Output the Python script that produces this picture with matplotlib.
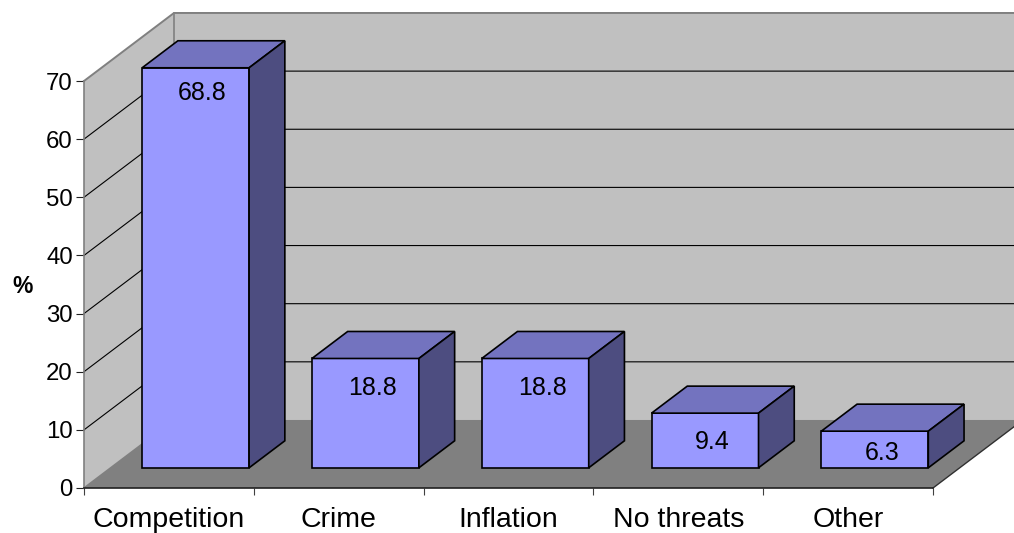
# -*- coding: utf-8 -*-
"""
Perceived business threats, drawn as an old style 3D bar chart.
The box is faked on a normal 2D axes by shifting points along a depth direction.
"""

import matplotlib as mpl
mpl.use("Agg")
import matplotlib.pyplot as plt
from matplotlib.patches import Polygon

plt.rcParams['font.family'] = ['Liberation Sans', 'DejaVu Sans']

############################
#% DATA
############################
categories = ['Competition', 'Crime', 'Inflation', 'No threats', 'Other']
values = [68.8, 18.8, 18.8, 9.4, 6.3]
yticks = [0, 10, 20, 30, 40, 50, 60, 70]

############################
#% SETTINGS
############################
W, H = 1014, 533
DPI = 100

# how far the back of the box is shifted, in data units
DEPTH_X = 0.53
DEPTH_Y = 11.7

BAR_WIDTH = 0.63
BAR_D0 = 0.297   # depth of bar front
BAR_D1 = 0.694   # depth of bar back

# drop of each value label below the bar's front top edge, in points
LABEL_DROP = [18, 21, 21, 20.5, 16]

WALL = '#C0C0C0'
FLOOR = '#808080'
EDGE = '#808080'
FRONT = '#9999FF'
TOP = '#7373BF'
SIDE = '#4D4D80'


def pt(x, y, d):
    """x, y on the front plane pushed back by depth d (0 to 1)."""
    return (x + d * DEPTH_X, y + d * DEPTH_Y)


def face(ax, pts, color, edge='none', lw=1.0, z=1):
    ax.add_patch(Polygon(pts, closed=True, facecolor=color, edgecolor=edge,
                         linewidth=lw, clip_on=False, zorder=z, joinstyle='miter'))


############################
#% PLOT
############################
fig = plt.figure(figsize=(W / DPI, H / DPI), dpi=DPI, facecolor='white')
ax = fig.add_axes([84 / W, (H - 488) / H, 849 / W, 407 / H])
ax.patch.set_visible(False)

n = len(categories)
ymax = yticks[-1]
ax.set_xlim(0, n)
ax.set_ylim(0, ymax)

# walls and floor
face(ax, [pt(0, 0, 1), pt(n, 0, 1), pt(n, ymax, 1), pt(0, ymax, 1)], WALL, z=1)
face(ax, [pt(0, 0, 0), pt(0, 0, 1), pt(0, ymax, 1), pt(0, ymax, 0)], WALL, z=1)
face(ax, [pt(0, 0, 0), pt(n, 0, 0), pt(n, 0, 1), pt(0, 0, 1)], FLOOR, z=1.5)

# gridlines run along the side wall and then across the back
for v in yticks[1:-1]:
    xs, ys = zip(pt(0, v, 0), pt(0, v, 1), pt(n, v, 1))
    ax.plot(xs, ys, color='black', lw=0.8, clip_on=False, zorder=2)
xs, ys = zip(pt(n, yticks[-1], 1), pt(0, yticks[-1], 1), pt(0, yticks[-1], 0))
ax.plot(xs, ys, color=EDGE, lw=1.4, clip_on=False, zorder=2)
xs, ys = zip(pt(0, 0, 0), pt(0, 0, 1), pt(0, ymax, 1))
ax.plot(xs, ys, color=EDGE, lw=1.2, clip_on=False, zorder=2)

# right hand edge of the floor
xs, ys = zip(pt(n, 0, 0), pt(n, 0, 1))
ax.plot(xs, ys, color='#303030', lw=1.0, clip_on=False, zorder=2)

# bars
for i, v in enumerate(values):
    x0 = i + 0.5 - BAR_WIDTH / 2
    x1 = i + 0.5 + BAR_WIDTH / 2
    # floor level is y=0, the depth shift lifts it up
    face(ax, [pt(x0, 0, BAR_D0), pt(x1, 0, BAR_D0), pt(x1, v, BAR_D0), pt(x0, v, BAR_D0)],
         FRONT, 'black', 1.2, 3)
    face(ax, [pt(x0, v, BAR_D0), pt(x1, v, BAR_D0), pt(x1, v, BAR_D1), pt(x0, v, BAR_D1)],
         TOP, 'black', 1.2, 3)
    face(ax, [pt(x1, 0, BAR_D0), pt(x1, 0, BAR_D1), pt(x1, v, BAR_D1), pt(x1, v, BAR_D0)],
         SIDE, 'black', 1.2, 3)
    ax.annotate(f'{v:.1f}', xy=pt(i + 0.5, v, BAR_D0), xytext=(5, -LABEL_DROP[i]),
                textcoords='offset points', ha='center', va='center',
                fontsize=18, color='black', zorder=4, annotation_clip=False)

# axes
for s in ['top', 'right']:
    ax.spines[s].set_visible(False)
ax.spines['left'].set_color(EDGE)
ax.spines['left'].set_linewidth(1.2)
ax.spines['bottom'].set_color('#202020')
ax.spines['bottom'].set_linewidth(1.2)
ax.spines['bottom'].set_zorder(5)

ax.set_yticks(yticks)
ax.tick_params(axis='y', length=5.5, width=0.8, color='#202020', pad=2.5, labelsize=17.3)

# ticks sit between the categories, labels in the middle of them
ax.set_xticks(range(n + 1))
ax.set_xticklabels([])
ax.tick_params(axis='x', which='major', length=5, width=0.8, color='#404040')
ax.set_xticks([i + 0.5 for i in range(n)], minor=True)
ax.set_xticklabels(categories, minor=True)
ax.tick_params(axis='x', which='minor', length=0, pad=13.8, labelsize=20.5)

ax.set_ylabel('%', rotation=0, fontweight='bold', fontsize=16.5, va='center', ha='center')
ax.yaxis.set_label_coords((23 - 84) / 849, 0.495)

fig.savefig('out.png', dpi=DPI)
